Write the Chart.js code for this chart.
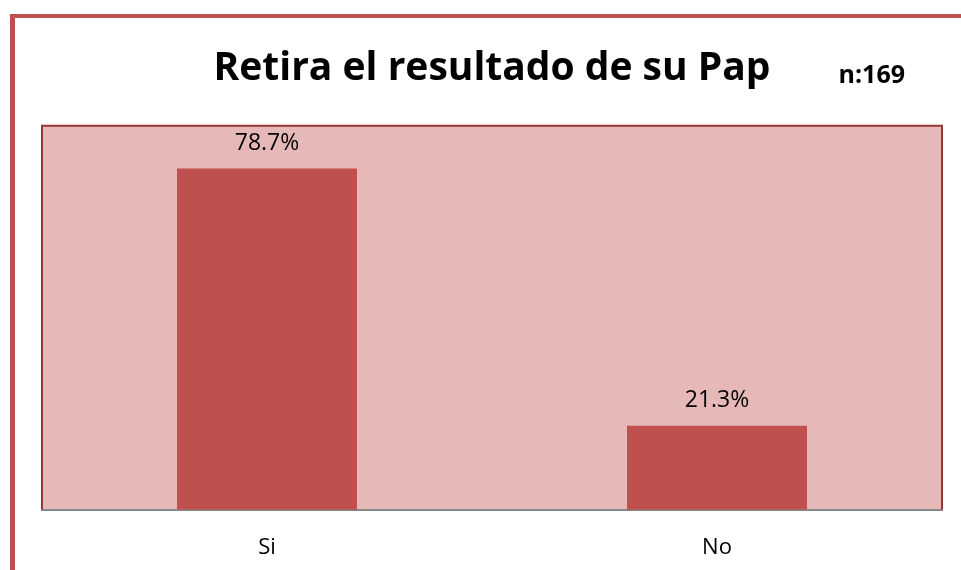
<!DOCTYPE html>
<html>
<head>
    <title>Retira el resultado de su Pap</title>
    <script src="https://cdn.jsdelivr.net/npm/chart.js"></script>
    <style>
        html, body { margin: 0; padding: 0; background: #fff; overflow: hidden; }
        .frame {
            position: absolute;
            left: 10px; top: 14px;
            width: 980px; height: 600px;
            border-top: 4px solid #c0504d;
            border-left: 5px solid #c0504d;
        }
        .wrap { position: absolute; left: 0; top: 0; width: 961px; height: 570px; }
    </style>
</head>
<body>
    <div class="frame"></div>
    <div class="wrap"><canvas id="papChart"></canvas></div>

    <script>
        // datos
        const categorias = ['Si', 'No'];
        const porcentajes = [78.7, 21.3];
        const titulo = 'Retira el resultado de su Pap';
        const muestra = 'n:169';

        // fondo y borde del área del gráfico
        const fondoArea = {
            id: 'fondoArea',
            beforeDraw(chart) {
                const { ctx, chartArea: a } = chart;
                ctx.save();
                ctx.fillStyle = '#e6b9b8';
                ctx.fillRect(a.left, a.top, a.right - a.left, a.bottom - a.top);
                ctx.restore();
            },
            afterDraw(chart) {
                const { ctx, chartArea: a } = chart;
                ctx.save();
                ctx.strokeStyle = '#953735';
                ctx.lineWidth = 2;
                ctx.beginPath();
                ctx.moveTo(a.left, a.bottom);
                ctx.lineTo(a.left, a.top);
                ctx.lineTo(a.right, a.top);
                ctx.lineTo(a.right, a.bottom);
                ctx.stroke();
                // n:169
                ctx.fillStyle = '#000';
                ctx.font = 'bold 25px "Open Sans"';
                ctx.textAlign = 'right';
                ctx.textBaseline = 'alphabetic';
                ctx.fillText(muestra, 905, 83);
                ctx.restore();
            }
        };

        // etiquetas de porcentaje sobre las barras
        const etiquetas = {
            id: 'etiquetas',
            afterDatasetsDraw(chart) {
                const { ctx } = chart;
                const meta = chart.getDatasetMeta(0);
                ctx.save();
                ctx.fillStyle = '#000';
                ctx.font = '23px "Open Sans"';
                ctx.textAlign = 'center';
                ctx.textBaseline = 'alphabetic';
                meta.data.forEach((bar, i) => {
                    ctx.fillText(porcentajes[i].toFixed(1) + '%', bar.x, bar.y - 18.5);
                });
                ctx.restore();
            }
        };

        new Chart(document.getElementById('papChart'), {
            type: 'bar',
            data: {
                labels: categorias,
                datasets: [{
                    data: porcentajes,
                    backgroundColor: '#c0504d',
                    barPercentage: 0.4,
                    categoryPercentage: 1.0
                }]
            },
            options: {
                responsive: true,
                maintainAspectRatio: false,
                animation: false,
                layout: { padding: { left: 42, right: 19, top: 0, bottom: -16 } },
                plugins: {
                    legend: { display: false },
                    tooltip: { enabled: false },
                    title: {
                        display: true,
                        text: titulo,
                        color: '#000',
                        font: { family: 'Open Sans', size: 39, weight: 'bold' },
                        padding: { top: 45, bottom: 34 }
                    }
                },
                scales: {
                    x: {
                        grid: { display: false, drawTicks: false },
                        border: { display: true, color: '#868686', width: 2 },
                        ticks: {
                            color: '#000',
                            padding: 25,
                            font: { family: 'Open Sans', size: 22 }
                        }
                    },
                    y: {
                        display: false,
                        min: 2.6,
                        max: 88.2
                    }
                }
            },
            plugins: [fondoArea, etiquetas]
        });
    </script>
</body>
</html>
